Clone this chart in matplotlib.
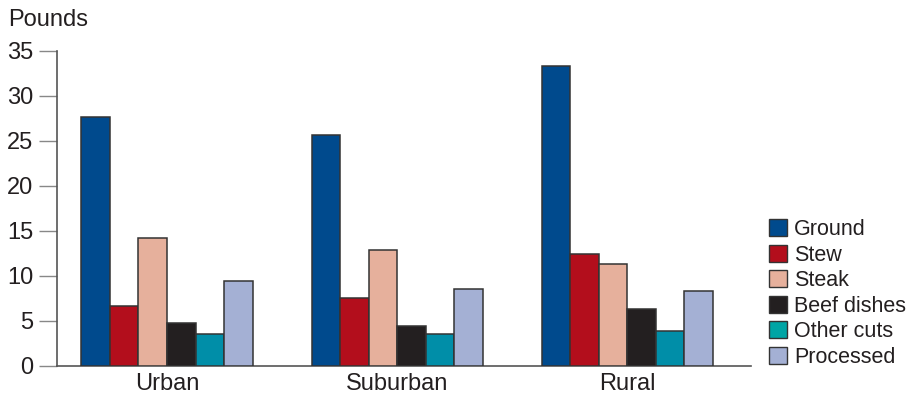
import matplotlib
matplotlib.use("Agg")
import matplotlib.pyplot as plt
from matplotlib.patches import Patch
import numpy as np

plt.rcParams['font.family'] = ['Liberation Sans', 'DejaVu Sans']

regions = ["Urban", "Suburban", "Rural"]
cuts = ["Ground", "Stew", "Steak", "Beef dishes", "Other cuts", "Processed"]
ground = [27.6, 25.6, 33.3]
stew = [6.7, 7.6, 12.4]
steak = [14.2, 12.9, 11.3]
beef_dishes = [4.8, 4.4, 6.3]
other_cuts = [3.5, 3.5, 3.9]
processed = [9.4, 8.5, 8.3]
yticks = [0, 5, 10, 15, 20, 25, 30, 35]

series = [ground, stew, steak, beef_dishes, other_cuts, processed]
colors = ["#004a8d", "#b30e1c", "#e6b09c", "#231f20", "#008ea8", "#a4b0d4"]
legend_colors = ["#004a8d", "#b30e1c", "#e6b09c", "#231f20", "#00a5a5", "#a4b0d4"]
edge = "#333333"
text_col = "#231f20"

W, H = 906, 396
fig = plt.figure(figsize=(W / 100, H / 100), dpi=100)
ax = fig.add_axes([57 / W, (H - 366) / H, (751 - 57) / W, (366 - 50.7) / H])

x = np.arange(len(regions))
width = 0.124
offsets = (np.arange(len(cuts)) - (len(cuts) - 1) / 2) * width
for vals, col, off in zip(series, colors, offsets):
    ax.bar(x + off, vals, width, color=col, edgecolor=edge, linewidth=1.1, zorder=3)

ax.set_xlim(-0.478, 2.537)
ax.set_ylim(0, 35)
ax.set_yticks(yticks)
ax.set_yticklabels([str(t) for t in yticks])
ax.set_xticks(x)
ax.set_xticklabels(regions)

for s in ["top", "right"]:
    ax.spines[s].set_visible(False)
for s in ["left", "bottom"]:
    ax.spines[s].set_color("#555555")
    ax.spines[s].set_linewidth(1.2)

ax.tick_params(axis="y", length=13, width=1.0, color="#888888", pad=4,
               labelsize=17, labelcolor=text_col)
ax.tick_params(axis="x", length=0, pad=5, labelsize=17, labelcolor=text_col)

fig.text(8 / W, (H - 9) / H, "Pounds", fontsize=17, color=text_col,
         ha="left", va="top")

handles = [Patch(facecolor=c, edgecolor=edge, linewidth=1.0) for c in legend_colors]
ax.legend(handles, cuts, loc="upper left",
          bbox_to_anchor=(769 / W, (H - 219) / H), bbox_transform=fig.transFigure,
          frameon=False, fontsize=15.5, handlelength=0.84, handleheight=0.84,
          handletextpad=0.33, labelspacing=0.21, borderpad=0, borderaxespad=0,
          labelcolor=text_col)

fig.savefig("out.png", dpi=100)
